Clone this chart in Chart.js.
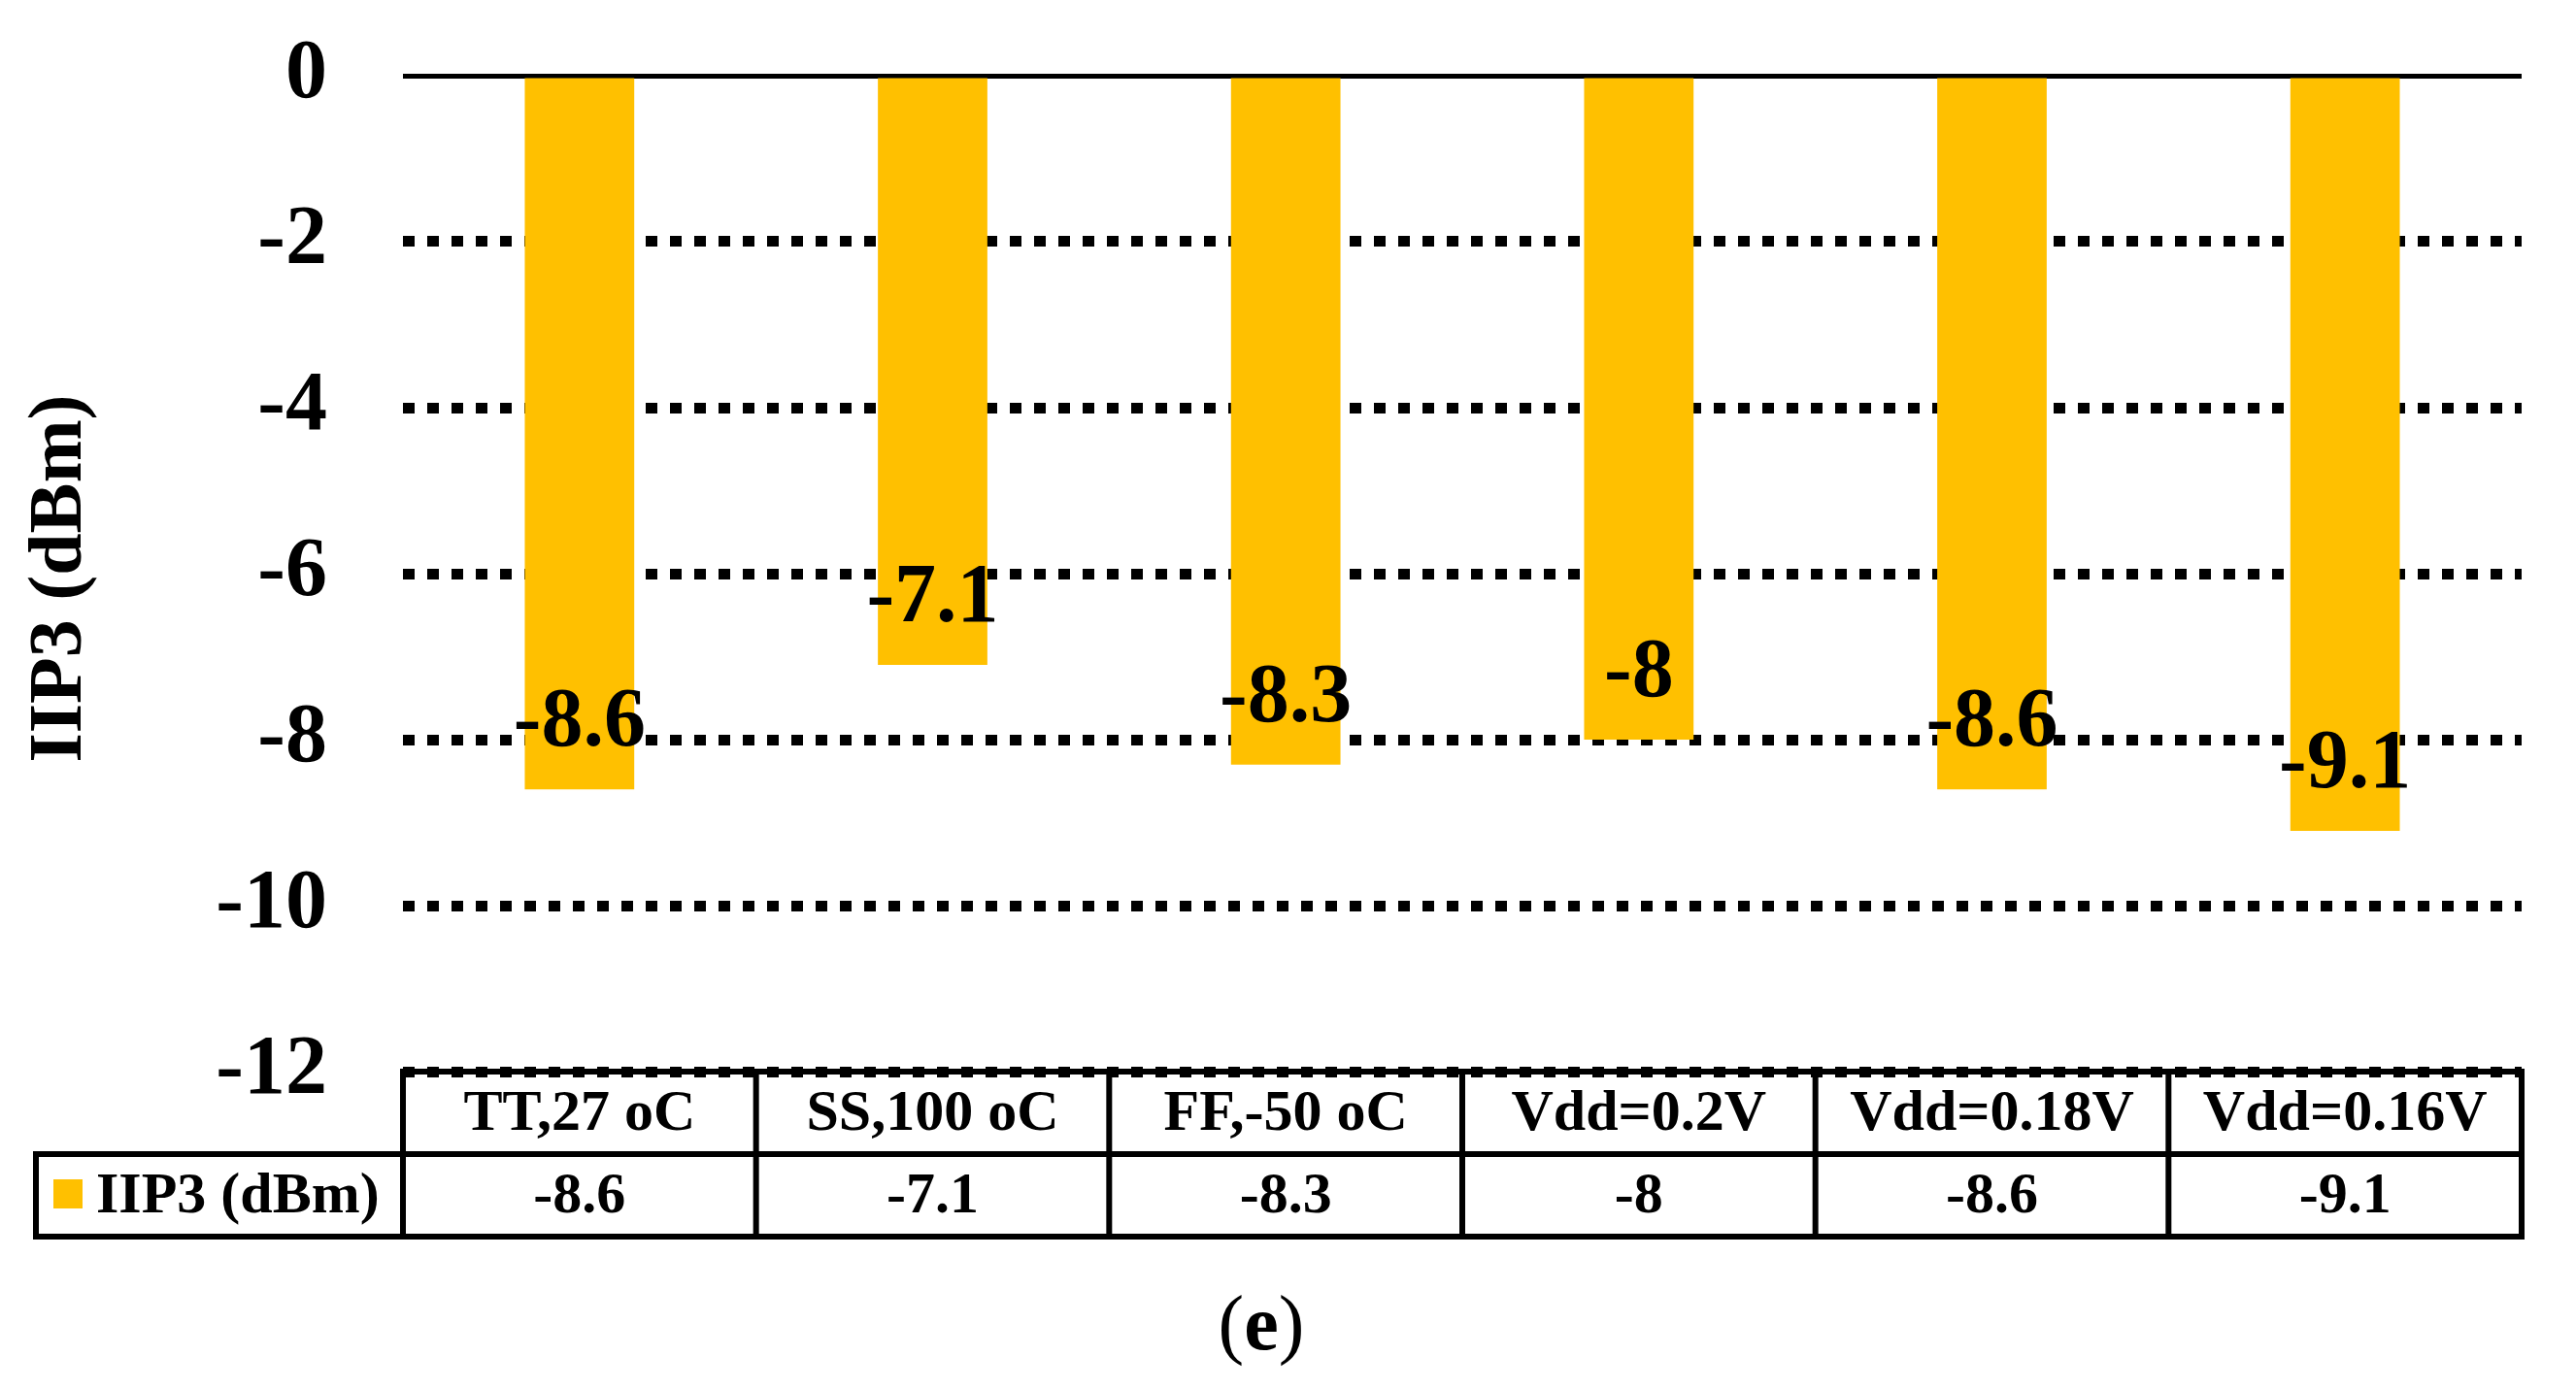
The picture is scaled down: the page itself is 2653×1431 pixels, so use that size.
<!DOCTYPE html>
<html>
<head>
    <title>IIP3 (dBm)</title>
    <script src="https://cdn.jsdelivr.net/npm/chart.js"></script>
    <style>
        html, body {
            margin: 0;
            padding: 0;
            background: #ffffff;
        }

        .chart-container {
            position: relative;
            width: 2653px;
            height: 1431px;
        }
    </style>
</head>

<body>
    <div class="chart-container">
        <canvas id="iip3Chart"></canvas>
    </div>

    <script>
        // Data
        const categories = ['TT,27 oC', 'SS,100 oC', 'FF,-50 oC', 'Vdd=0.2V', 'Vdd=0.18V', 'Vdd=0.16V'];
        const iip3Values = [-8.6, -7.1, -8.3, -8, -8.6, -9.1];
        const seriesName = 'IIP3 (dBm)';
        const yTicks = [0, -2, -4, -6, -8, -10, -12];
        const caption = 'e';

        const serif = "'Liberation Serif', 'Times New Roman', serif";
        const barColor = '#FFC000';

        // Labels on bars, data table under the chart, axis title and caption
        const extrasPlugin = {
            id: 'extras',
            afterDatasetsDraw(chart) {
                const ctx = chart.ctx;
                const meta = chart.getDatasetMeta(0);
                ctx.save();
                ctx.fillStyle = '#000';
                ctx.font = 'bold 86px ' + serif;
                ctx.textAlign = 'center';
                ctx.textBaseline = 'alphabetic';
                meta.data.forEach((bar, i) => {
                    ctx.fillText(String(iip3Values[i]), bar.x, bar.y - 45);
                });
                ctx.restore();
            },
            afterDraw(chart) {
                const ctx = chart.ctx;
                const area = chart.chartArea;
                const xs = chart.scales.x;
                const ys = chart.scales.y;
                const half = (area.right - area.left) / categories.length / 2;
                const top = ys.getPixelForValue(yTicks[yTicks.length - 1]);
                const rowH = 85;
                const mid = top + rowH;
                const bottom = top + 2 * rowH;
                const tableLeft = 37;

                ctx.save();
                ctx.strokeStyle = '#000';
                ctx.lineWidth = 6;
                ctx.lineCap = 'square';
                ctx.beginPath();
                // horizontal rules
                ctx.moveTo(area.left, top); ctx.lineTo(area.right, top);
                ctx.moveTo(tableLeft, mid); ctx.lineTo(area.right, mid);
                ctx.moveTo(tableLeft, bottom); ctx.lineTo(area.right, bottom);
                // vertical rules
                ctx.moveTo(tableLeft, mid); ctx.lineTo(tableLeft, bottom);
                categories.forEach((c, i) => {
                    const x = xs.getPixelForValue(i) - half;
                    ctx.moveTo(x, top); ctx.lineTo(x, bottom);
                });
                ctx.moveTo(area.right, top); ctx.lineTo(area.right, bottom);
                ctx.stroke();

                // cell text
                ctx.fillStyle = '#000';
                ctx.font = 'bold 60px ' + serif;
                ctx.textAlign = 'center';
                ctx.textBaseline = 'middle';
                categories.forEach((c, i) => {
                    const x = xs.getPixelForValue(i);
                    ctx.fillText(c, x, (top + mid) / 2 + 2);
                    ctx.fillText(String(iip3Values[i]), x, (mid + bottom) / 2 + 2);
                });

                // legend key in the table
                ctx.fillStyle = barColor;
                ctx.fillRect(55, mid + 26, 30, 30);
                ctx.fillStyle = '#000';
                ctx.textAlign = 'left';
                ctx.fillText(seriesName, 99, (mid + bottom) / 2 + 2);

                // y axis title
                ctx.save();
                ctx.translate(63, 596);
                ctx.rotate(-Math.PI / 2);
                ctx.font = 'bold 78px ' + serif;
                ctx.textAlign = 'center';
                ctx.textBaseline = 'middle';
                ctx.fillText(seriesName, 0, 0);
                ctx.restore();

                // caption "(e)"
                ctx.textBaseline = 'alphabetic';
                ctx.textAlign = 'left';
                const normal = '80px ' + serif;
                const bold = 'bold 80px ' + serif;
                ctx.font = normal;
                const wOpen = ctx.measureText('(').width;
                const wClose = ctx.measureText(')').width;
                ctx.font = bold;
                const wE = ctx.measureText(caption).width;
                let cx = 1299 - (wOpen + wE + wClose) / 2;
                const baseY = 1390;
                ctx.font = normal;
                ctx.fillText('(', cx, baseY);
                cx += wOpen;
                ctx.font = bold;
                ctx.fillText(caption, cx, baseY);
                cx += wE;
                ctx.font = normal;
                ctx.fillText(')', cx, baseY);
                ctx.restore();
            }
        };

        const ctx = document.getElementById('iip3Chart').getContext('2d');
        const chart = new Chart(ctx, {
            type: 'bar',
            data: {
                labels: categories,
                datasets: [{
                    label: seriesName,
                    data: iip3Values,
                    backgroundColor: barColor,
                    borderWidth: 0,
                    barPercentage: 0.31,
                    categoryPercentage: 1.0
                }]
            },
            options: {
                responsive: true,
                maintainAspectRatio: false,
                animation: false,
                devicePixelRatio: 1,
                layout: {
                    padding: { top: 78, right: 56, bottom: 327, left: 0 }
                },
                plugins: {
                    legend: { display: false },
                    tooltip: { enabled: false }
                },
                scales: {
                    x: {
                        ticks: { display: false },
                        grid: { display: false },
                        border: { display: false },
                        afterFit: (scale) => {
                            scale.height = 0;
                            scale.paddingLeft = 0;
                            scale.paddingRight = 0;
                        }
                    },
                    y: {
                        min: yTicks[yTicks.length - 1],
                        max: yTicks[0],
                        afterBuildTicks: (scale) => {
                            scale.ticks = yTicks.map(v => ({ value: v }));
                        },
                        afterFit: (scale) => {
                            // fixed axis width, no extra room asked for the end labels
                            scale.width = 415;
                            scale.paddingTop = 0;
                            scale.paddingBottom = 0;
                        },
                        ticks: {
                            color: '#000',
                            padding: 78,
                            font: { family: serif, size: 86, weight: 'bold' },
                            callback: (v) => String(v)
                        },
                        grid: {
                            color: '#000',
                            drawTicks: false,
                            lineWidth: (c) => (c.tick && c.tick.value === 0 ? 5 : 11)
                        },
                        border: {
                            display: false,
                            dash: (c) => (c.tick && c.tick.value === 0 ? [] : [12, 13])
                        }
                    }
                }
            },
            plugins: [extrasPlugin]
        });
    </script>
</body>
</html>
